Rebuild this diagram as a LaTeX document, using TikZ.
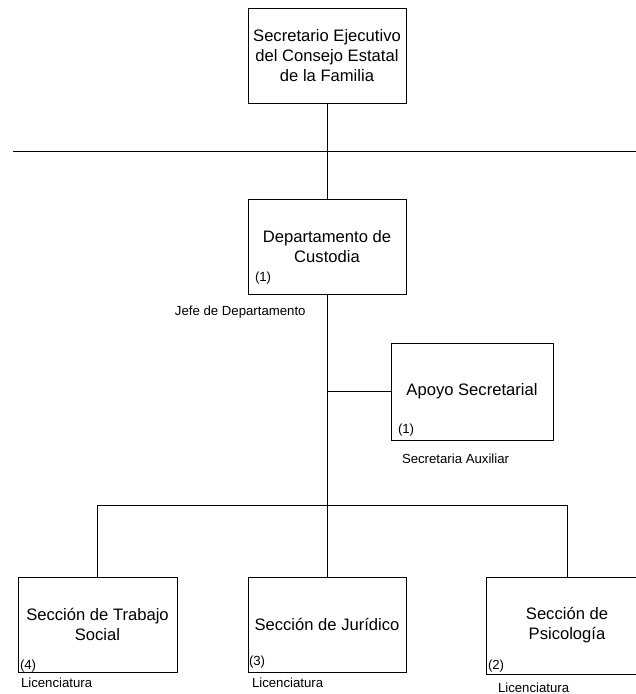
\documentclass[tikz,border=0pt]{standalone}
\usepackage{fontspec}
\setmainfont{Liberation Sans}
\usepackage{tikz}

\begin{document}
\begin{tikzpicture}[x=1pt, y=1pt, line width=0.8pt,
	box/.style={rectangle,draw,align=center,minimum width=158pt,minimum height=95pt,
		inner sep=2pt,font=\fontsize{16.6}{20}\selectfont},
	small/.style={inner sep=0pt,font=\fontsize{13.2}{15}\selectfont}]
	
	\useasboundingbox (0,0) rectangle (636,-694);
	
	\node[box] (sec) at (327,-55.5) {Secretario Ejecutivo\\del Consejo Estatal\\de la Familia};
	\node[box] (dept) at (327,-246.5) {Departamento de\\Custodia};
	\node[box, minimum width=162pt, minimum height=97pt] (apoyo) at (472,-391.5) {Apoyo Secretarial};
	\node[box, minimum width=159pt] (trabajo) at (97.5,-624.5) {Secci\'on de Trabajo\\Social};
	\node[box] (juridico) at (327,-624.5) {Secci\'on de Jur\'idico};
	\node[box, minimum width=162pt, minimum height=97pt] (psico) at (567,-625.5) {Secci\'on de\\Psicolog\'ia};
	
	\node[small, anchor=west] (n1) at ([xshift=7pt,yshift=16pt]dept.south west) {(1)};
	\node[small, anchor=west] (n2) at ([xshift=7pt,yshift=10pt]apoyo.south west) {(1)};
	\node[small, anchor=west] (n3) at ([xshift=2pt,yshift=6pt]trabajo.south west) {(4)};
	\node[small, anchor=west] (n4) at ([xshift=1pt,yshift=10pt]juridico.south west) {(3)};
	\node[small, anchor=west] (n5) at ([xshift=2pt,yshift=8pt]psico.south west) {(2)};
	
	\node[small, anchor=east] (jefe) at ([xshift=-21pt,yshift=-18pt]dept.south) {Jefe de Departamento};
	\node[small, anchor=west] (aux) at ([xshift=11pt,yshift=-18pt]apoyo.south west) {Secretaria Auxiliar};
	\node[small, anchor=west] (lic1) at ([xshift=3pt,yshift=-10pt]trabajo.south west) {Licenciatura};
	\node[small, anchor=west] (lic2) at ([xshift=4pt,yshift=-10pt]juridico.south west) {Licenciatura};
	\node[small, anchor=west] (lic3) at ([xshift=12pt,yshift=-13pt]psico.south west) {Licenciatura};
	
	\coordinate (hl) at (13,-151);
	\coordinate (hr) at (640,-151);
	\coordinate (branch) at (327,-505);
	
	\draw (hl) -- (hr);
	\draw (sec) -- (dept);
	\draw (dept) -- (branch);
	\draw (dept.south |- apoyo.west) -- (apoyo.west);
	\draw (trabajo.north |- branch) -- (psico.north |- branch);
	\draw (trabajo.north |- branch) -- (trabajo.north);
	\draw (branch) -- (juridico.north);
	\draw (psico.north |- branch) -- (psico.north);
	\end{tikzpicture}
\end{document}
